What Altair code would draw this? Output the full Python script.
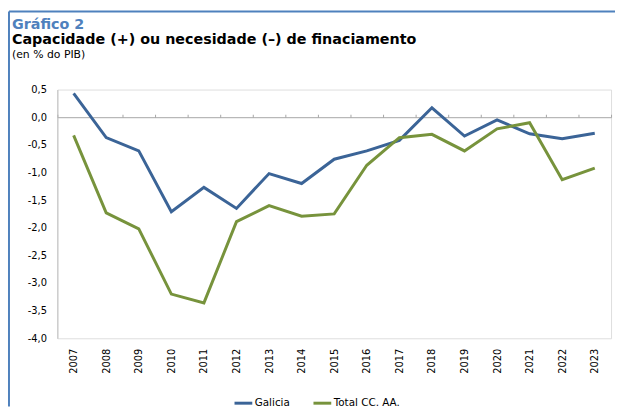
import altair as alt
import pandas as pd

years = list(range(2007, 2024))
galicia = [0.43, -0.37, -0.61, -1.71, -1.27, -1.65, -1.02, -1.20, -0.76, -0.61,
           -0.42, 0.17, -0.34, -0.05, -0.30, -0.39, -0.29]
total = [-0.33, -1.73, -2.02, -3.20, -3.36, -1.89, -1.60, -1.79, -1.75, -0.87,
         -0.37, -0.31, -0.61, -0.21, -0.10, -1.13, -0.92]
series_names = ["Galicia", "Total CC. AA."]
series_colors = ["#3b6497", "#77933c"]
y_ticks = [0.5, 0.0, -0.5, -1.0, -1.5, -2.0, -2.5, -3.0, -3.5, -4.0]
boundaries = [y - 0.5 for y in years] + [years[-1] + 0.5]
title_lines = ["Gráfico 2", "Capacidade (+) ou necesidade (–) de finaciamento", "(en % do PIB)"]

rows = []
for yr, g, t in zip(years, galicia, total):
    rows.append({"year": yr, "serie": series_names[0], "value": g})
    rows.append({"year": yr, "serie": series_names[1], "value": t})
df = pd.DataFrame(rows)

xscale = alt.Scale(domain=[years[0] - 0.5, years[-1] + 0.5], nice=False, zero=False)
yscale = alt.Scale(domain=[-4.0, 0.5], nice=False, zero=False)

ylabel = "(datum.value < 0 ? '-' : '') + replace(format(abs(datum.value), '.1f'), '.', ',')"

y_enc = alt.Y("value:Q", scale=yscale,
              axis=alt.Axis(values=y_ticks, labelExpr=ylabel, ticks=False, grid=False,
                            domainColor="#bfbfbf", labelPadding=11, labelFontSize=10,
                            labelColor="#000000", title=None, labelOverlap=False,
                            labelFlush=False))

lines = alt.Chart(df).mark_line(strokeWidth=3).encode(
    x=alt.X("year:Q", scale=xscale,
            axis=alt.Axis(values=years, format="d", labelAngle=-90, labelPadding=10,
                          ticks=False, domain=False, grid=False, title=None,
                          labelFontSize=10, labelColor="#000000", labelOverlap=False)),
    y=y_enc,
    color=alt.Color("serie:N", scale=alt.Scale(domain=series_names, range=series_colors),
                    legend=alt.Legend(orient="none", legendX=178, legendY=307,
                                      direction="horizontal", title=None,
                                      symbolType="stroke", symbolSize=324,
                                      symbolStrokeWidth=3, labelFontSize=10.5,
                                      labelOffset=1, columnPadding=17,
                                      labelColor="#000000")),
)

zero_axis = alt.Chart(df).mark_line(opacity=0).encode(
    x=alt.X("year:Q", scale=xscale,
            axis=alt.Axis(orient="top", offset=-28, values=boundaries, labels=False,
                          ticks=True, tickSize=3, tickColor="#a6a6a6",
                          domainColor="#a6a6a6", grid=False, title=None)),
    y=y_enc,
    detail="serie:N",
)

one = pd.DataFrame({"k": [0]})
frame_left = alt.Chart(one).mark_rule(color="#4f81bd", strokeWidth=2).encode(
    x=alt.value(-49), y=alt.value(-79), y2=alt.value(321))
frame_top = alt.Chart(one).mark_rule(color="#4f81bd", strokeWidth=2).encode(
    x=alt.value(-49), x2=alt.value(565), y=alt.value(-79))

t1 = alt.Chart(one).mark_text(align="left", baseline="alphabetic", fontSize=14.5,
                              fontWeight="bold", color="#4f81bd",
                              text=title_lines[0]).encode(
    x=alt.value(-46), y=alt.value(-61.5))
t2 = alt.Chart(one).mark_text(align="left", baseline="alphabetic", fontSize=14.5,
                              fontWeight="bold", color="#000000",
                              text=title_lines[1]).encode(
    x=alt.value(-46), y=alt.value(-46))
t3 = alt.Chart(one).mark_text(align="left", baseline="alphabetic", fontSize=11,
                              color="#000000", text=title_lines[2]).encode(
    x=alt.value(-46), y=alt.value(-32))

chart = alt.layer(lines, zero_axis, frame_left, frame_top, t1, t2, t3).resolve_axis(
    x="independent"
).properties(
    width=561,
    height=252,
    autosize="none",
    padding={"left": 50, "top": 80, "right": 4, "bottom": 69},
).configure_view(stroke="transparent").configure(font="DejaVu Sans")

chart.save("out.html", embed_options={"renderer": "svg", "actions": False})
